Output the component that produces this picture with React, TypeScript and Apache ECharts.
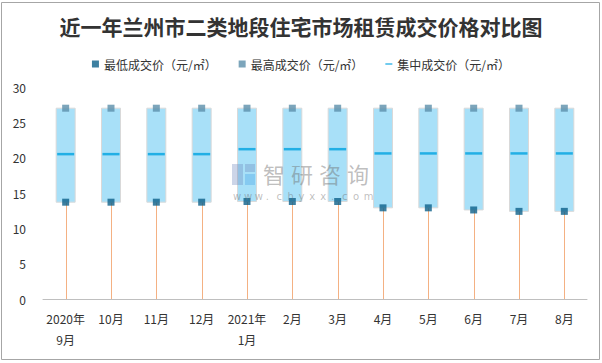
import React, { useEffect, useRef } from "react";
import * as echarts from "echarts";

const titleText = "近一年兰州市二类地段住宅市场租赁成交价格对比图";
const categories = ["2020年\n9月", "10月", "11月", "12月", "2021年\n1月", "2月", "3月", "4月", "5月", "6月", "7月", "8月"];
const lowPrices = [13.7, 13.7, 13.7, 13.7, 13.8, 13.8, 13.8, 12.9, 12.9, 12.6, 12.4, 12.4];
const highPrices = [27, 27, 27, 27, 27, 27, 27, 27, 27, 27, 27, 27];
const midPrices = [20.5, 20.5, 20.5, 20.5, 21.2, 21.2, 21.2, 20.6, 20.6, 20.6, 20.6, 20.6];
const seriesNames = ["最低成交价（元/㎡）", "最高成交价（元/㎡）", "集中成交价（元/㎡）"];
const watermarkName = "智研咨询";
const watermarkUrl = "www.chyxx.com";

const FONT = "'Noto Sans CJK SC', 'Microsoft YaHei', sans-serif";

export default function App() {
  const ref = useRef<HTMLDivElement>(null);
  useEffect(() => {
    if (!ref.current) return;
    const chart = echarts.init(ref.current, null, { renderer: "svg" });
    const boxData = categories.map((_, i) => [i, lowPrices[i], highPrices[i]]);
    const wmColor = "rgba(110,110,110,0.45)";
    const nameChars = watermarkName.split("").map((c, i) => ({
      type: "text",
      x: 263 + i * 28,
      y: 162,
      z: 100,
      silent: true,
      style: { text: c, fontSize: 22, fill: wmColor, fontFamily: FONT },
    }));
    const urlChars = watermarkUrl.split("").map((c, i) => ({
      type: "text",
      x: 233 + i * 10.9,
      y: 191,
      z: 100,
      silent: true,
      style: { text: c, fontSize: 10, fill: wmColor, fontFamily: "'DejaVu Sans', sans-serif" },
    }));
    chart.setOption({
      animation: false,
      backgroundColor: "#fff",
      textStyle: { fontFamily: FONT },
      title: {
        text: titleText,
        left: "center",
        top: 10,
        textStyle: { fontSize: 21, fontWeight: "bold", color: "#333", fontFamily: FONT },
      },
      legend: {
        top: 53,
        left: "center",
        itemGap: 22,
        itemWidth: 7,
        itemHeight: 7,
        textStyle: { fontSize: 12, color: "#333", fontFamily: FONT },
        data: [
          { name: seriesNames[0], icon: "rect" },
          { name: seriesNames[1], icon: "rect" },
          { name: seriesNames[2], icon: "path://M0,4L10,4L10,6L0,6Z" },
        ],
      },
      grid: { left: 43, right: 15, top: 87, bottom: 64 },
      xAxis: {
        type: "category",
        data: categories,
        boundaryGap: true,
        axisLine: { lineStyle: { color: "#BFBFBF" } },
        axisTick: { show: false },
        axisLabel: { color: "#333", fontSize: 12, lineHeight: 21, margin: 9, interval: 0, fontFamily: FONT },
      },
      yAxis: {
        type: "value",
        min: 0,
        max: 30,
        interval: 5,
        axisLine: { show: false },
        axisTick: { show: false },
        splitLine: { show: false },
        axisLabel: { color: "#333", fontSize: 12, margin: 17, fontFamily: FONT },
      },
      graphic: [
        {
          type: "rect",
          shape: { x: 1.5, y: 2.5, width: 598, height: 357 },
          style: { fill: "none", stroke: "#A6A6A6", lineWidth: 1 },
          silent: true,
          z: 100,
        },
        { type: "rect", z: 100, silent: true, shape: { x: 232, y: 164, width: 11, height: 21 }, style: { fill: "rgba(110,135,190,0.35)" } },
        { type: "rect", z: 100, silent: true, shape: { x: 245, y: 164, width: 10, height: 8 }, style: { fill: "rgba(110,135,190,0.35)" } },
        { type: "rect", z: 100, silent: true, shape: { x: 245, y: 174, width: 10, height: 11 }, style: { fill: "rgba(80,170,230,0.4)" } },
        ...nameChars,
        ...urlChars,
      ],
      series: [
        {
          type: "custom",
          name: "box",
          z: 1,
          data: boxData,
          renderItem: (params: any, api: any) => {
            const idx = api.value(0);
            const low = api.coord([idx, api.value(1)]);
            const high = api.coord([idx, api.value(2)]);
            const zero = api.coord([idx, 0]);
            const x = low[0];
            const w = 19;
            return {
              type: "group",
              children: [
                {
                  type: "line",
                  shape: { x1: Math.round(x) + 0.5, y1: low[1], x2: Math.round(x) + 0.5, y2: zero[1] },
                  style: { stroke: "#F4B183", lineWidth: 1 },
                },
                {
                  type: "rect",
                  shape: { x: x - w / 2, y: high[1], width: w, height: low[1] - high[1] },
                  style: { fill: "#A8E0F8", stroke: "#D9D9D9", lineWidth: 1 },
                },
              ],
            };
          },
        },
        {
          type: "scatter",
          name: seriesNames[0],
          symbol: "rect",
          symbolSize: [7, 7],
          itemStyle: { color: "#0C6089" },
          z: 5,
          data: lowPrices,
        },
        {
          type: "scatter",
          name: seriesNames[1],
          symbol: "rect",
          symbolSize: [7, 7],
          itemStyle: { color: "#5B8FAA" },
          z: 5,
          data: highPrices,
        },
        {
          type: "scatter",
          name: seriesNames[2],
          symbol: "rect",
          symbolSize: [17, 2.5],
          itemStyle: { color: "#00A2E0" },
          z: 5,
          data: midPrices,
        },
      ],
    });
    return () => chart.dispose();
  }, []);
  return <div ref={ref} style={{ position: "fixed", left: 0, top: 0, width: 602, height: 363 }} />;
}
